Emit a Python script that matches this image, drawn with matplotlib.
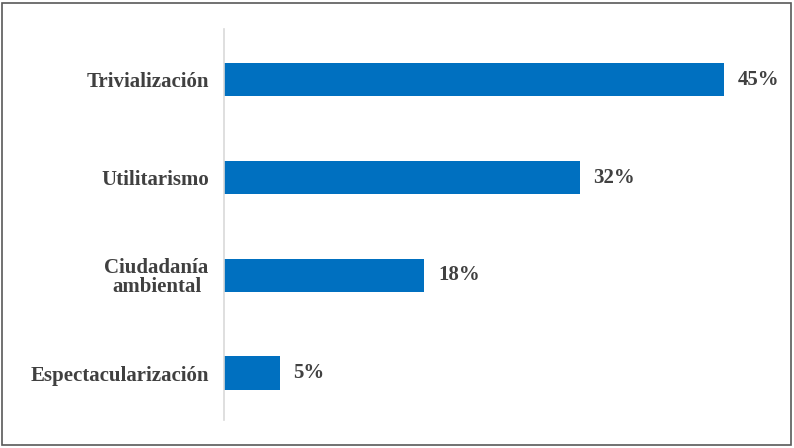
import matplotlib.pyplot as plt
from matplotlib.patches import Rectangle

categories = ["Trivialización", "Utilitarismo", "Ciudadanía\nambiental", "Espectacularización"]
values = [45, 32, 18, 5]
labels = ["45%", "32%", "18%", "5%"]

bar_color = "#0070C0"
text_color = "#404040"
font = "Liberation Serif"

fig = plt.figure(figsize=(7.94, 4.48), dpi=100)
ax = fig.add_axes([224 / 794, 1 - 420 / 448, 550 / 794, 391 / 448])

y = range(len(categories))
ax.barh(y, values, height=0.34, color=bar_color)
ax.set_ylim(3.48, -0.52)
ax.set_xlim(0, 45 * 550 / 500)

ax.set_yticks(list(y))
ax.set_yticklabels(categories, fontfamily=font, fontweight="bold",
                   fontsize=15, color=text_color, linespacing=0.95)
for lab in ax.get_yticklabels():
    lab.set_multialignment("center")
ax.tick_params(axis="y", length=0, pad=11)
ax.set_xticks([])

for i, (v, lab) in enumerate(zip(values, labels)):
    ax.text(v + 1.25, i, lab, va="center", ha="left", fontfamily=font,
            fontweight="bold", fontsize=15, color=text_color)

for s in ["top", "right", "bottom"]:
    ax.spines[s].set_visible(False)
ax.spines["left"].set_color("#D9D9D9")
ax.spines["left"].set_linewidth(1.2)

fig.patches.append(Rectangle((2 / 794, 3 / 448), 789 / 794, 442 / 448, transform=fig.transFigure,
                             fill=False, edgecolor="#595959", linewidth=1.2))

fig.savefig("out.png", dpi=100)
